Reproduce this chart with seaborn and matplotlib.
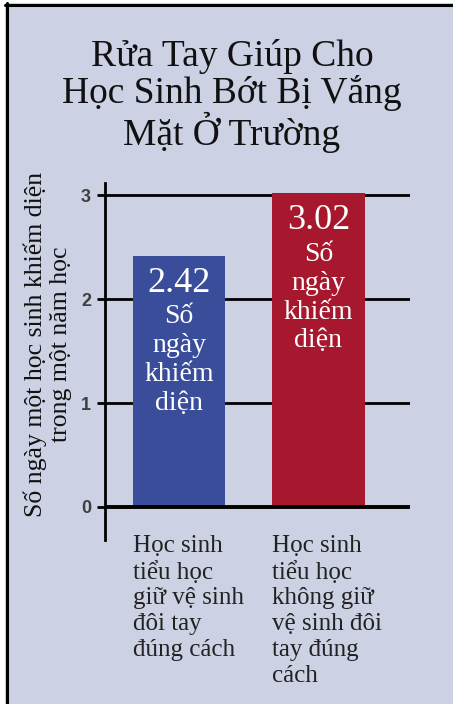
import matplotlib
matplotlib.use("Agg")
import matplotlib.pyplot as plt
import seaborn as sns
import pandas as pd
from matplotlib.lines import Line2D
from matplotlib.patches import Rectangle

# ---- data ----
categories = [
    "Học sinh\ntiểu học\ngiữ vệ sinh\nđôi tay\nđúng cách",
    "Học sinh\ntiểu học\nkhông giữ\nvệ sinh đôi\ntay đúng\ncách",
]
values = [2.42, 3.02]
value_labels = ["2.42", "3.02"]
bar_word = "Số\nngày\nkhiếm\ndiện"
yticks = [0, 1, 2, 3]
title = "Rửa Tay Giúp Cho\nHọc Sinh Bớt Bị Vắng\nMặt Ở Trường"
ylabel = "Số ngày một học sinh khiếm diện\ntrong một năm học"

# ---- style ----
BG = "#ccd1e4"
BLUE = "#3a4d9b"
RED = "#a7172d"
SERIF = ["Liberation Serif", "DejaVu Serif"]

sns.set_theme(style="white")
plt.rcParams["font.family"] = SERIF

W, H = 453, 704
fig = plt.figure(figsize=(W / 100, H / 100), dpi=100, facecolor="white")

# panel background with black top/left border
fig.add_artist(Rectangle((5 / W, 0), 1, 1 - 3 / H, transform=fig.transFigure,
                         facecolor=BG, edgecolor="none", zorder=-10))
fig.add_artist(Line2D([5 / W, 1], [1 - 4.5 / H, 1 - 4.5 / H], transform=fig.transFigure,
                      color="black", lw=2.2, zorder=-5))
fig.add_artist(Line2D([6.5 / W, 6.5 / W], [0, 1 - 3 / H], transform=fig.transFigure,
                      color="black", lw=2.2, zorder=-5))

ax = fig.add_axes([105 / W, 1 - 540 / H, 305 / W, 357 / H])
ax.set_facecolor("none")

df = pd.DataFrame({"cat": categories, "val": values})
sns.barplot(data=df, x="cat", y="val", hue="cat", palette=[BLUE, RED],
            width=0.66, saturation=1, legend=False, ax=ax, zorder=3,
            linewidth=0, edgecolor="none")

ax.set_xlim(-0.53, 1.656)
ax.set_ylim(-0.32, 3.12)

# grid lines
for t in yticks[1:]:
    ax.axhline(t, color="black", lw=2.0, zorder=1)
ax.axhline(0, color="black", lw=2.8, zorder=4)

for s in ["top", "right", "bottom"]:
    ax.spines[s].set_visible(False)
ax.spines["left"].set_color("black")
ax.spines["left"].set_linewidth(2.0)
ax.spines["left"].set_zorder(5)

ax.set_yticks(yticks)
ax.set_yticklabels([str(t) for t in yticks], fontfamily=["Liberation Sans", "DejaVu Sans"],
                   fontweight="bold", fontsize=13, color="#3f3f3f")
ax.tick_params(axis="y", which="major", direction="out", length=6, width=2.0,
               color="black", pad=4, left=True)
ax.tick_params(axis="x", bottom=False, labelbottom=False)
ax.set_xlabel("")
ax.set_ylabel("")

# labels inside bars
for i, (v, lab) in enumerate(zip(values, value_labels)):
    ax.annotate(lab, xy=(i, v), xytext=(0, -8), textcoords="offset points",
                ha="center", va="top", color="white", fontsize=26, zorder=6)
    ax.annotate(bar_word, xy=(i, v), xytext=(0, -35), textcoords="offset points",
                ha="center", va="top", color="white", fontsize=20,
                linespacing=1.2, zorder=6)

# category labels under the axis
for i, c in enumerate(categories):
    ax.text(i - 0.33, -0.27, c, ha="left", va="top", fontsize=18,
            color="#222222", linespacing=1.22)

# title
fig.text(232 / W, 1 - 39 / H, title, ha="center", va="top", fontsize=27,
         color="#111111", linespacing=1.03)

# y label
fig.text(48 / W, 1 - 344 / H, ylabel, rotation=90, ha="center", va="center",
         fontsize=18.5, color="#111111", linespacing=1.15)

fig.savefig("out.png", dpi=100, facecolor="white")
